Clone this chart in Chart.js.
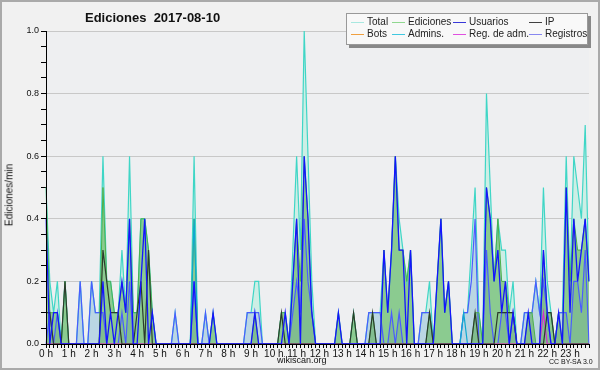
<!DOCTYPE html>
<html>
<head>
<meta charset="utf-8">
<script src="https://cdn.jsdelivr.net/npm/chart.js@4.4.0/dist/chart.umd.min.js"></script>
<style>
  html, body { margin: 0; padding: 0; background: #f1f1f1; }
  #wrap { position: relative; width: 600px; height: 370px; overflow: hidden; font-family: "Liberation Sans", Arial, sans-serif; color: #111; }
  #c { position: absolute; left: 0; top: 0; }
  #frame { position: absolute; left: 0; top: 0; width: 600px; height: 370px; box-sizing: border-box; border: 2px solid #aaa; pointer-events: none; }
  #title { position: absolute; left: 85px; top: 10px; font-weight: bold; font-size: 13px; white-space: pre; }
  #legend { position: absolute; left: 346px; top: 13px; width: 240px; height: 30px; background: #f8f8f8; border: 1px solid #999; box-shadow: 3px 3px 0 #888; }
  .item { position: absolute; font-size: 10px; line-height: 12px; color: #222; white-space: nowrap; }
  .item i { position: absolute; left: -16px; top: 6px; width: 13px; height: 0; border-top: 1px solid; }
  #ytitle { position: absolute; left: 9px; top: 195px; transform: translate(-50%, -50%) rotate(-90deg); font-size: 10px; white-space: nowrap; }
  #site { position: absolute; left: 277px; top: 355px; font-size: 9px; }
  #lic { position: absolute; left: 549px; top: 358px; font-size: 7px; }
</style>
</head>
<body>
<div id="wrap">
  <canvas id="c" width="600" height="370"></canvas>
  <div id="title">Ediciones  2017-08-10</div>
  <div id="legend"></div>
  <div id="ytitle">Ediciones/min</div>
  <div id="site">wikiscan.org</div>
  <div id="lic">CC BY-SA 3.0</div>
  <div id="frame"></div>
</div>
<script>
// one value per 10 minutes, six per hour (edits per minute)
const hours = ['0 h','1 h','2 h','3 h','4 h','5 h','6 h','7 h','8 h','9 h','10 h','11 h',
  '12 h','13 h','14 h','15 h','16 h','17 h','18 h','19 h','20 h','21 h','22 h','23 h'];

const total = [
  .5,.2,.1,.2,0,.2,  0,0,0,.2,0,0,  .2,.1,.1,.6,.2,.2,  .1,.1,.3,.1,.6,.1,
  .1,.4,.4,.3,.1,0,  0,0,0,0,.1,0,  0,0,0,.6,0,0,  .1,0,.1,0,0,0,
  0,0,0,0,0,.1,  .1,.2,.2,0,0,0,  0,0,.1,.1,0,.3,  .6,.3,1,.6,.2,0,
  0,0,0,0,0,.1,  0,0,0,.1,0,0,  0,.1,.1,.1,.1,.3,  .1,.3,.6,.4,.3,.2,
  .3,0,0,.1,.1,.2,  0,.2,.4,.1,.2,0,  0,0,.1,.1,.3,.5,  .1,0,.8,.5,.2,.4,
  .3,.3,.1,.2,0,0,  .1,.1,.1,.2,.1,.5,  .2,.1,0,.1,.1,.6,  .2,.6,.5,.4,.7,.2
];
const ediciones = [
  .5,.1,.1,.1,0,.2,  0,0,0,0,0,0,  0,0,0,.5,.2,.2,  .1,.1,.2,.1,.4,.1,
  .1,.4,.4,.3,.1,0,  0,0,0,0,0,0,  0,0,0,.4,0,0,  0,0,.1,0,0,0,
  0,0,0,0,0,0,  0,.1,0,0,0,0,  0,0,.1,.1,0,.2,  .4,.2,.6,.4,.1,0,
  0,0,0,0,0,.1,  0,0,0,.1,0,0,  0,0,.1,0,0,.3,  .1,.3,.6,.3,.3,.2,
  .3,0,0,0,0,.1,  0,.2,.4,.1,.2,0,  0,0,0,0,0,.1,  .1,0,.5,.4,.2,.4,
  .2,.2,.1,.1,0,0,  0,.1,.1,0,0,.3,  .1,.1,0,.1,0,.5,  .2,.4,.3,.3,.4,.2
];
const usuarios = [
  .4,0,.1,.1,0,0,  0,0,0,0,0,0,  0,0,0,.2,0,.1,  0,.1,.2,.1,.4,0,
  0,.2,.4,0,.1,0,  0,0,0,0,0,0,  0,0,0,.2,0,0,  0,0,.1,0,0,0,
  0,0,0,0,0,0,  0,.1,0,0,0,0,  0,0,0,.1,0,.2,  .4,0,.6,.4,.1,0,
  0,0,0,0,0,.1,  0,0,0,0,0,0,  0,0,0,0,0,.3,  .1,.3,.6,.3,.3,0,
  .3,0,0,0,0,0,  0,.2,.4,.1,.2,0,  0,0,0,0,0,0,  0,0,.5,.4,.2,.3,
  .1,.2,0,.1,0,0,  0,.1,0,0,0,.3,  .1,0,0,.1,0,.5,  .1,.4,.2,.3,.4,.2
];
const ip = [
  .1,.1,0,0,0,.2,  0,0,0,0,0,0,  0,0,0,.3,.2,.1,  .1,.1,0,0,0,0,
  .1,.2,0,.3,0,0,  0,0,0,0,0,0,  0,0,0,0,0,0,  0,0,0,0,0,0,
  0,0,0,0,0,0,  0,0,0,0,0,0,  0,0,.1,0,0,0,  0,0,0,0,0,0,
  0,0,0,0,0,0,  0,0,0,.1,0,0,  0,0,.1,0,0,0,  0,0,0,0,0,0,
  0,0,0,0,0,.1,  0,0,0,0,0,0,  0,0,0,0,0,.1,  0,0,0,0,0,.1,
  .1,.1,.1,.1,0,0,  0,0,0,0,0,0,  .1,.1,0,0,0,0,  0,0,0,0,0,0
];
const registros = [
  0,.1,0,.1,0,0,  0,0,0,.2,0,0,  .2,.1,.1,.1,0,0,  0,0,.1,0,.2,0,
  0,0,0,0,0,0,  0,0,0,0,.1,0,  0,0,0,.2,0,0,  .1,0,0,0,0,0,
  0,0,0,0,0,.1,  .1,.1,.1,0,0,0,  0,0,0,0,0,.1,  .2,.1,.4,.2,.1,0,
  0,0,0,0,0,0,  0,0,0,0,0,0,  0,.1,.1,.1,.1,0,  0,.1,0,.1,0,0,
  0,0,0,.1,.1,.1,  0,0,0,0,0,0,  0,0,.1,.1,.2,.4,  0,0,.3,.1,0,0,
  .1,.1,0,.1,0,0,  .1,.1,.1,.2,.1,.2,  .1,0,0,.1,.1,.1,  0,.2,.2,.1,.3,0
];
const admins = new Array(144).fill(0);
admins[39] = .4; admins[110] = .1;
const bots = new Array(144).fill(0);
const regAdm = new Array(144).fill(0);
regAdm[131] = .1;

const slots = [];
hours.forEach(h => { slots.push(h, '', '', '', '', ''); });

// style per series; lower order = drawn on top
const series = [
  { label: 'Total', data: total, line: '#3fd6c6', key: '#a8e8e0', fill: '#cdeee5', order: 8, w: 1.2 },
  { label: 'Ediciones', data: ediciones, line: '#4cb04c', key: '#90d890', fill: 'rgba(60,160,40,0.45)', order: 6, w: 1 },
  { label: 'Usuarios', data: usuarios, line: '#1414ff', key: '#3838d8', order: 1, w: 1.3 },
  { label: 'IP', data: ip, line: '#2c3c2c', key: '#404040', order: 2, w: 1.2 },
  { label: 'Bots', data: bots, line: '#f09020', key: '#f0a040', order: 4, w: 1 },
  { label: 'Admins.', data: admins, line: '#10a8d0', key: '#40c8e0', order: 5, w: 1.2 },
  { label: 'Reg. de adm.', data: regAdm, line: '#d030d0', key: '#e050e0', order: 3, w: 1.2 },
  { label: 'Registros', data: registros, line: '#4a5cff', key: '#8888f0', fill: '#bad6e3', order: 7, w: 1.2 }
];

// legend box
const legendCols = [20, 61, 122, 198];
const legend = document.getElementById('legend');
series.forEach((s, i) => {
  const el = document.createElement('div');
  el.className = 'item';
  el.style.left = legendCols[i % 4] + 'px';
  el.style.top = (i < 4 ? 2 : 14) + 'px';
  el.innerHTML = '<i style="border-color:' + s.key + '"></i>' + s.label;
  legend.appendChild(el);
});

const bgPlugin = {
  id: 'bg',
  beforeDraw(chart) {
    const { ctx, chartArea: a } = chart;
    ctx.save();
    ctx.fillStyle = '#f1f1f1';
    ctx.fillRect(0, 0, chart.width, chart.height);
    ctx.fillStyle = '#eeeff1';
    ctx.fillRect(a.left, a.top, a.right - a.left, a.bottom - a.top);
    ctx.restore();
  },
  afterDatasetsDraw(chart) {
    const { ctx, chartArea: a } = chart;
    ctx.save();
    ctx.strokeStyle = '#000';
    ctx.lineWidth = 1;
    ctx.beginPath();
    ctx.moveTo(a.left + 0.5, a.top);
    ctx.lineTo(a.left + 0.5, a.bottom + 0.5);
    ctx.lineTo(a.right + 1, a.bottom + 0.5);
    ctx.stroke();
    ctx.restore();
  }
};

const isMajor = v => Math.abs(v * 5 - Math.round(v * 5)) < 1e-6;

new Chart(document.getElementById('c'), {
  type: 'line',
  data: {
    labels: slots,
    datasets: series.map(s => ({
      label: s.label,
      data: s.data,
      borderColor: s.line,
      borderWidth: s.w,
      backgroundColor: s.fill || 'transparent',
      fill: s.fill ? 'origin' : false,
      order: s.order,
      pointRadius: 0,
      tension: 0
    }))
  },
  options: {
    responsive: false,
    animation: false,
    layout: { padding: { left: 0, right: 11, top: 31, bottom: 0 } },
    plugins: {
      legend: { display: false },
      tooltip: { enabled: false },
      filler: { drawTime: 'beforeDatasetsDraw' }
    },
    scales: {
      x: {
        type: 'category',
        offset: false,
        afterFit: s => { s.height = 26; },
        border: { color: '#000' },
        grid: { drawOnChartArea: false, drawTicks: true, tickLength: 4, tickColor: '#000', offset: false },
        ticks: {
          autoSkip: false, maxRotation: 0, minRotation: 0, padding: 0,
          color: '#111', font: { family: 'Liberation Sans', size: 10 }
        }
      },
      y: {
        min: 0, max: 1,
        afterFit: s => { s.width = 46; },
        border: { color: '#000' },
        grid: {
          color: c => (isMajor(c.tick.value) && c.tick.value > 0 ? '#c8c8c8' : 'rgba(0,0,0,0)'),
          tickColor: '#000',
          tickLength: 5
        },
        ticks: {
          stepSize: 0.05,
          autoSkip: false,
          padding: 2,
          color: '#111',
          font: { family: 'Liberation Sans', size: 9 },
          callback: v => (isMajor(v) ? v.toFixed(1) : '')
        }
      }
    }
  },
  plugins: [bgPlugin]
});
</script>
</body>
</html>
